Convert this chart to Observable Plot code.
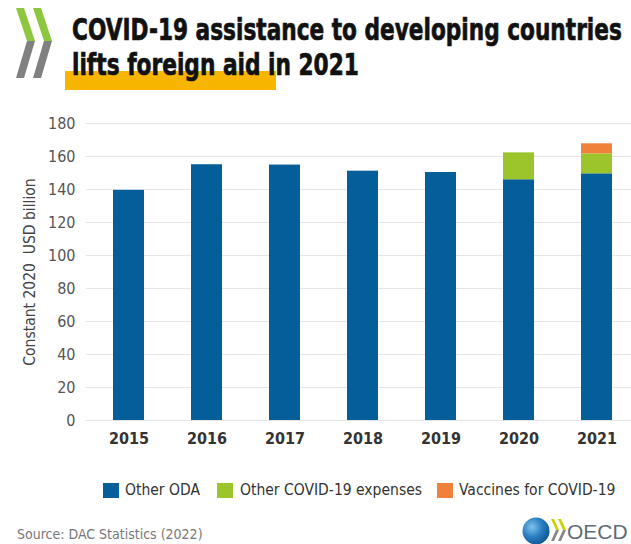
<!DOCTYPE html>
<html>
<head>
<meta charset="utf-8">
<script src="https://cdn.jsdelivr.net/npm/d3@7"></script>
<script src="https://cdn.jsdelivr.net/npm/@observablehq/plot@0.6"></script>
<style>
  html, body { margin: 0; padding: 0; background: #fff; }
  #wrap { position: relative; width: 631px; height: 544px; overflow: hidden; font-family: "DejaVu Sans Condensed", "Roboto", sans-serif; }
  #header { position: absolute; left: 0; top: 0; }
  #chart { position: absolute; left: 0; top: 100px; }
  #legend { position: absolute; left: 0; top: 474px; width: 631px; height: 30px; }
  .lg { position: absolute; top: 0; font-size: 15.5px; color: #333; line-height: 20px; white-space: nowrap; }
  .sw { position: absolute; top: 9px; width: 16px; height: 15px; }
  #source { position: absolute; left: 17px; top: 526px; font-size: 14px; color: #777; white-space: nowrap; }
  #footer { position: absolute; left: 0; top: 494px; }
</style>
</head>
<body>
<div id="wrap">
  <svg id="header" width="631" height="100">
    <rect x="65" y="71" width="211" height="19" fill="#F7B500"></rect>
    <polygon points="16,8 24,8 35,41 27,41" fill="#8DC63F"></polygon>
    <polygon points="27,41 35,41 24,78 16,78" fill="#808080"></polygon>
    <polygon points="33,8 41,8 52,41 44,41" fill="#8DC63F"></polygon>
    <polygon points="44,41 52,41 41,78 33,78" fill="#808080"></polygon>
    <text id="t1" font-family="'DejaVu Sans Condensed', sans-serif" font-weight="bold" font-size="31" fill="#111" stroke="#111" stroke-width="0.7">COVID-19 assistance to developing countries</text>
    <text id="t2" font-family="'DejaVu Sans Condensed', sans-serif" font-weight="bold" font-size="31" fill="#111" stroke="#111" stroke-width="0.7">lifts foreign aid in 2021</text>
  </svg>
  <div id="chart"></div>
  <div id="legend"></div>
  <div id="source">Source: DAC Statistics (2022)</div>
  <svg id="footer" width="631" height="50">
    <defs>
      <radialGradient id="globe" cx="0.35" cy="0.35" r="0.75">
        <stop offset="0" stop-color="#7fc3ee"></stop>
        <stop offset="0.5" stop-color="#2a7fc1"></stop>
        <stop offset="1" stop-color="#0b4f8c"></stop>
      </radialGradient>
    </defs>
    <circle cx="536" cy="37" r="13.5" fill="url(#globe)"></circle>
    <polygon points="551,25 554,25 559,36 556,36" fill="#C8D400"></polygon>
    <polygon points="556,36 559,36 554,47 551,47" fill="#888"></polygon>
    <polygon points="558,25 561,25 566,36 563,36" fill="#C8D400"></polygon>
    <polygon points="563,36 566,36 561,47 558,47" fill="#888"></polygon>
    <text id="oecd" x="567" y="45" font-family="'Liberation Sans', 'DejaVu Sans', sans-serif" font-size="21" fill="#5f6b78">OECD</text>
  </svg>
</div>
<script>
const years = ["2015", "2016", "2017", "2018", "2019", "2020", "2021"];
const series = ["Other ODA", "Other COVID-19 expenses", "Vaccines for COVID-19"];
const otherODA = [139.5, 155.0, 154.8, 151.1, 150.3, 145.9, 149.5];
const otherCovid = [0, 0, 0, 0, 0, 16.3, 12.1];
const vaccines = [0, 0, 0, 0, 0, 0, 6.1];
const colors = ["#045E9A", "#9BC52A", "#F0813A"];
const yTicks = [0, 20, 40, 60, 80, 100, 120, 140, 160, 180];

// Fit the title lines horizontally (condensed look)
function fitText(id, x, y, w) {
  const el = document.getElementById(id);
  const natural = el.getComputedTextLength();
  const s = w / natural;
  el.setAttribute("transform", `translate(${x},${y}) scale(${s},1)`);
}
fitText("t1", 72, 40, 550);
fitText("t2", 72, 75, 287);

const seriesValues = [otherODA, otherCovid, vaccines];
const data = [];
series.forEach((s, si) => {
  years.forEach((y, yi) => {
    const v = seriesValues[si][yi];
    if (v > 0) data.push({year: y, series: s, value: v});
  });
});

const font = "'DejaVu Sans Condensed', Roboto, sans-serif";

const chart = Plot.plot({
  width: 631,
  height: 355,
  marginLeft: 86,
  marginRight: 0,
  marginTop: 23,
  marginBottom: 35,
  style: {fontFamily: font, background: "transparent"},
  x: {domain: years, paddingInner: 0.6, paddingOuter: 0.25, align: 0.6, label: null},
  y: {domain: [0, 180], ticks: yTicks, label: null},
  color: {domain: series, range: colors},
  marks: [
    Plot.gridY(yTicks, {stroke: "#e6e6e6", strokeOpacity: 1, strokeWidth: 1}),
    Plot.barY(data, {x: "year", y: "value", fill: "series", order: series}),
    Plot.axisY(yTicks, {tickSize: 0, tickPadding: 11, fontSize: 16, fill: "#555", label: null}),
    Plot.axisX({tickSize: 0, tickPadding: 12, fontSize: 16, fontWeight: "bold", fill: "#333", label: null}),
    Plot.text(["Constant 2020  USD billion"], {frameAnchor: "left", dx: -56, rotate: -90, fontSize: 15.5, fill: "#444", textAnchor: "middle"})
  ]
});
document.getElementById("chart").appendChild(chart);

// Legend
const legend = document.getElementById("legend");
const swX = [103, 217, 437];
const txX = [125, 240, 459];
series.forEach((s, i) => {
  const sw = document.createElement("div");
  sw.className = "sw";
  sw.style.left = swX[i] + "px";
  sw.style.background = colors[i];
  legend.appendChild(sw);
  const t = document.createElement("div");
  t.className = "lg";
  t.style.left = txX[i] + "px";
  t.style.top = "6px";
  t.textContent = s;
  legend.appendChild(t);
});
</script>
</body>
</html>
